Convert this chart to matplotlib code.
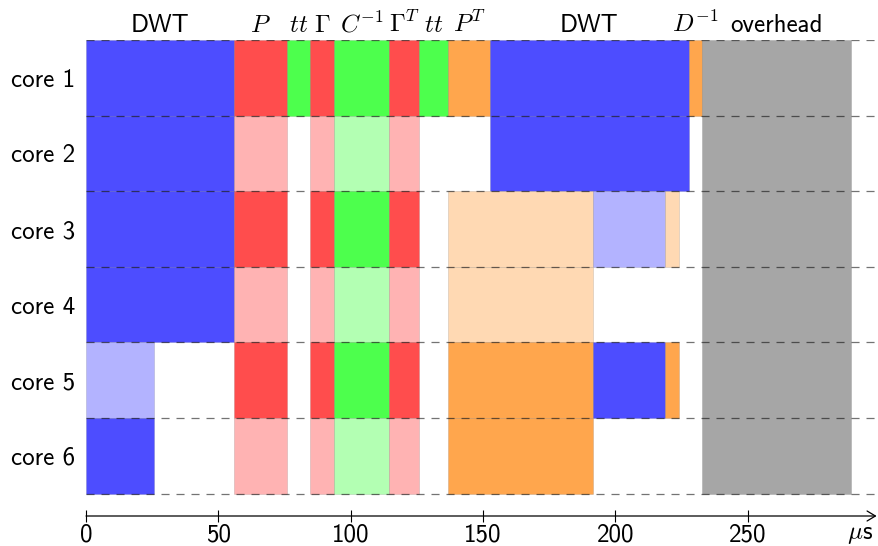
import matplotlib.pyplot as plt
from matplotlib.patches import Rectangle

plt.rcParams["font.family"] = ["cmss10", "DejaVu Sans"]
plt.rcParams["mathtext.fontset"] = "cm"
plt.rcParams["axes.unicode_minus"] = False
plt.rcParams["lines.scale_dashes"] = False

# time axis in microseconds, one list of (start, end, task, full colour?) per core
core_labels = ["core 1", "core 2", "core 3", "core 4", "core 5", "core 6"]

core1 = [(0, 55.8, "dwt", 1), (55.8, 75.9, "p", 1), (75.9, 84.6, "tt", 1),
         (84.6, 93.6, "gamma", 1), (93.6, 114.6, "cinv", 1), (114.6, 125.8, "gammaT", 1),
         (125.8, 136.9, "tt", 1), (136.9, 152.6, "pT", 1), (152.6, 227.8, "dwt", 1),
         (227.8, 232.8, "dinv", 1)]
core2 = [(0, 55.8, "dwt", 1), (55.8, 75.9, "p", 0), (84.6, 93.6, "gamma", 0),
         (93.6, 114.6, "cinv", 0), (114.6, 125.8, "gammaT", 0), (152.6, 227.8, "dwt", 1)]
core3 = [(0, 55.8, "dwt", 1), (55.8, 75.9, "p", 1), (84.6, 93.6, "gamma", 1),
         (93.6, 114.6, "cinv", 1), (114.6, 125.8, "gammaT", 1), (136.9, 191.6, "pT", 0),
         (191.6, 218.7, "dwt", 0), (218.7, 224.0, "dinv", 0)]
core4 = [(0, 55.8, "dwt", 1), (55.8, 75.9, "p", 0), (84.6, 93.6, "gamma", 0),
         (93.6, 114.6, "cinv", 0), (114.6, 125.8, "gammaT", 0), (136.9, 191.6, "pT", 0)]
core5 = [(0, 25.7, "dwt", 0), (55.8, 75.9, "p", 1), (84.6, 93.6, "gamma", 1),
         (93.6, 114.6, "cinv", 1), (114.6, 125.8, "gammaT", 1), (136.9, 191.6, "pT", 1),
         (191.6, 218.7, "dwt", 1), (218.7, 224.0, "dinv", 1)]
core6 = [(0, 25.7, "dwt", 1), (55.8, 75.9, "p", 0), (84.6, 93.6, "gamma", 0),
         (93.6, 114.6, "cinv", 0), (114.6, 125.8, "gammaT", 0), (136.9, 191.6, "pT", 1)]
cores = [core1, core2, core3, core4, core5, core6]

overhead = (232.8, 288.9)

phase_labels = ["DWT", "$P$", "$tt$", r"$\Gamma$", r"$C^{-1}$", r"$\Gamma^T$",
                "$tt$", "$P^T$", "DWT", "$D^{-1}$"]
xticks = [0, 50, 100, 150, 200, 250]

# xcolor style: colour!70 for full, colour!30 for light
full = {"blue": "#4d4dff", "red": "#ff4d4d", "green": "#4dff4d", "orange": "#ffa64d"}
light = {"blue": "#b3b3ff", "red": "#ffb3b3", "green": "#b3ffb3", "orange": "#ffd9b3"}
task_color = {"dwt": "blue", "p": "red", "tt": "green", "gamma": "red", "cinv": "green",
              "gammaT": "red", "pT": "orange", "dinv": "orange"}

fs = 18
ybot = -0.295
xmax = 299.6

fig = plt.figure(figsize=(8.79, 5.46), dpi=100)
ax = fig.add_axes([86 / 879, 1 - 516 / 546, 1 - 86 / 879, (516 - 40) / 546])
ax.set_xlim(0, xmax)
ax.set_ylim(ybot, 6)

for i, segs in enumerate(cores):
    y0 = 5 - i
    for start, end, task, strong in segs:
        c = (full if strong else light)[task_color[task]]
        ax.add_patch(Rectangle((start, y0), end - start, 1, facecolor=c,
                               edgecolor=(0, 0, 0, 0.12), lw=0.6, zorder=1))
    ax.text(-4.2, y0 + 0.5, core_labels[i], ha="right", va="center_baseline", fontsize=fs)

ax.add_patch(Rectangle((overhead[0], 0), overhead[1] - overhead[0], 6,
                       facecolor="#a6a6a6", edgecolor=(0, 0, 0, 0.12), lw=0.6, zorder=1))

for y in range(7):
    ax.axhline(y, color="black", alpha=0.55, lw=0.9, ls=(0, (5.8, 5.0)), zorder=3)

# phase names above core 1
for (start, end, task, strong), lab in zip(core1, phase_labels):
    ax.text((start + end) / 2, 6.106, lab, ha="center", va="baseline", fontsize=fs)
ax.text(sum(overhead) / 2, 6.106, "overhead", ha="center", va="baseline", fontsize=fs)

for side in ["left", "right", "top", "bottom"]:
    ax.spines[side].set_visible(False)
ax.set_yticks([])
ax.set_xticks(xticks)
ax.tick_params(axis="x", direction="inout", length=9, width=0.8, labelsize=fs, pad=1)

ax.annotate("", xy=(298.7, ybot), xytext=(0, ybot), annotation_clip=False,
            arrowprops=dict(arrowstyle="->,head_length=0.5,head_width=0.3", lw=0.9,
                            color="black", shrinkA=0, shrinkB=0, mutation_scale=12))
ax.text(292.4, ybot - 0.09, r"$\mu$s", ha="center", va="top", fontsize=fs)

fig.savefig("out.png", dpi=100)
